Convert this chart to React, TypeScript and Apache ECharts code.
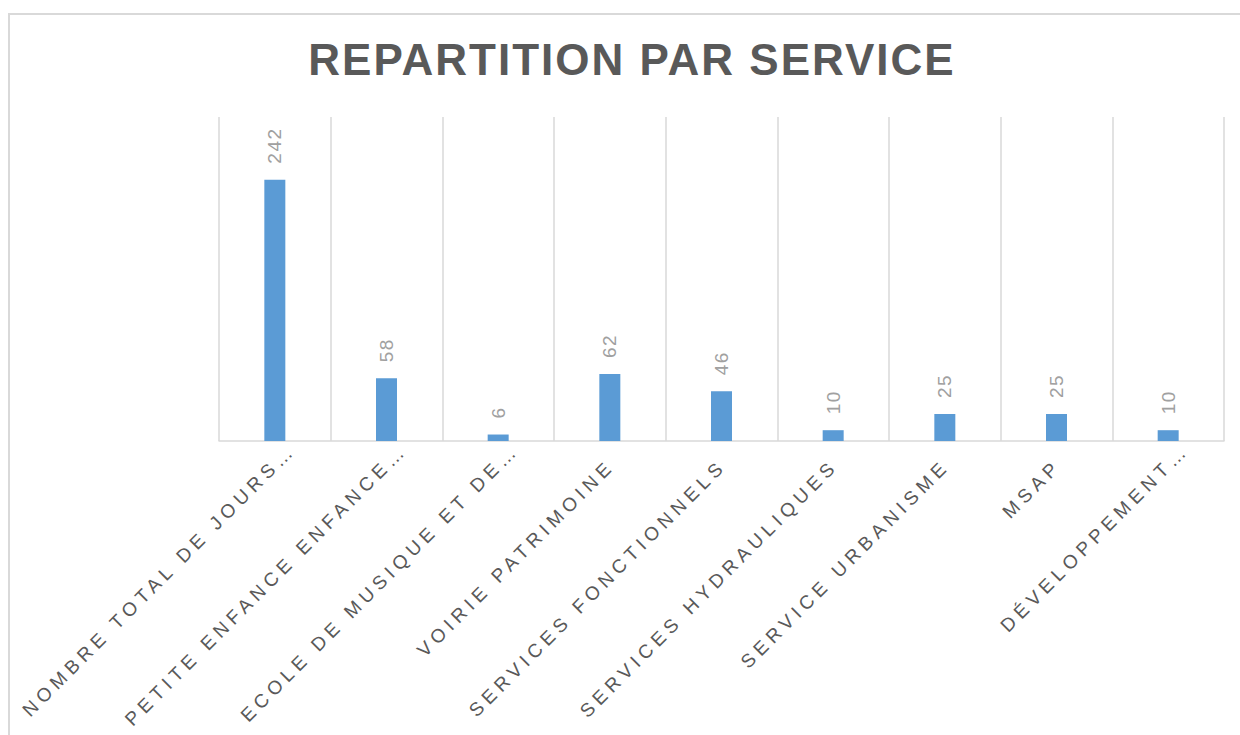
import React, { useEffect, useRef } from "react";
import * as echarts from "echarts";

const chartTitle = "REPARTITION PAR SERVICE";
const categories = [
  "NOMBRE TOTAL DE JOURS…",
  "PETITE ENFANCE ENFANCE…",
  "ECOLE DE MUSIQUE ET DE…",
  "VOIRIE PATRIMOINE",
  "SERVICES FONCTIONNELS",
  "SERVICES HYDRAULIQUES",
  "SERVICE URBANISME",
  "MSAP",
  "DÉVELOPPEMENT…",
];
const values = [242, 58, 6, 62, 46, 10, 25, 25, 10];
const yMax = 300;

export default function App() {
  const ref = useRef<HTMLDivElement>(null);
  useEffect(() => {
    const el = ref.current!;
    const chart = echarts.init(el, undefined, { renderer: "svg" });
    // truncated labels (ending with an ellipsis) sit a bit further out, as in the source
    const categoryData = categories.map((c) => ({
      value: c,
      textStyle: { padding: c.endsWith("…") ? [0, -25, 0, 0] : [0, -2, 0, 0] },
    }));
    chart.setOption({
      animation: false,
      backgroundColor: "#ffffff",
      graphic: [
        {
          type: "rect",
          shape: { x: 9, y: 14, width: 1260, height: 760 },
          style: { fill: "none", stroke: "#d9d9d9", lineWidth: 2 },
          silent: true,
        },
        {
          type: "text",
          x: 632,
          y: 59,
          style: {
            text: chartTitle,
            fill: "#595959",
            fontSize: 44,
            fontWeight: "bold",
            fontFamily: "Liberation Sans, Arial, sans-serif",
            align: "center",
            verticalAlign: "middle",
          },
          silent: true,
        },
      ],
      grid: { left: 219, right: 16, top: 117, bottom: 294 },
      xAxis: {
        type: "category",
        data: categoryData,
        axisLine: { lineStyle: { color: "#d9d9d9", width: 1.5 } },
        axisTick: { show: false },
        splitLine: { show: true, interval: 0, lineStyle: { color: "#d9d9d9", width: 1.5 } },
        axisLabel: {
          interval: 0,
          rotate: 45,
          color: "#595959",
          fontSize: 19,
          fontFamily: "Liberation Sans, Arial, sans-serif",
          margin: 23,
          verticalAlign: "top",
        },
      },
      yAxis: {
        type: "value",
        min: 0,
        max: yMax,
        show: false,
        splitLine: { show: false },
      },
      series: [
        {
          type: "bar",
          data: values,
          barWidth: 21,
          itemStyle: { color: "#5b9bd5" },
          label: {
            show: true,
            position: "top",
            rotate: 90,
            align: "left",
            verticalAlign: "middle",
            distance: 16,
            color: "#a0a0a0",
            fontSize: 19,
            fontFamily: "Liberation Sans, Arial, sans-serif",
          },
        },
      ],
    });
    const applySpacing = () => {
      el.querySelectorAll("text").forEach((t) => {
        const s = t.textContent || "";
        if (s === chartTitle) t.style.letterSpacing = "2px";
        else if (/^\d+$/.test(s)) t.style.letterSpacing = "1.5px";
        else t.style.letterSpacing = "5px";
      });
    };
    applySpacing();
    chart.on("finished", applySpacing);
    chart.on("rendered", applySpacing);
    const timer = setTimeout(applySpacing, 50);
    return () => {
      clearTimeout(timer);
      chart.dispose();
    };
  }, []);
  return (
    <div
      ref={ref}
      style={{ position: "absolute", left: 0, top: 0, width: 1240, height: 735 }}
    />
  );
}
